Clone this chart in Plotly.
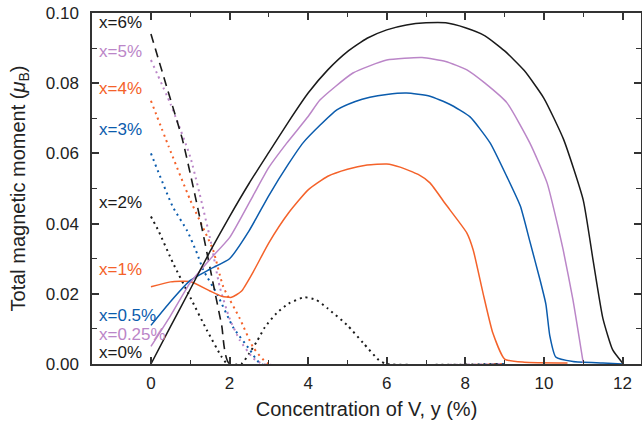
import plotly.graph_objects as go

# ---- data: x = Mn concentration series, y = V concentration (%) ----
y0 = [0, 0.5, 1.0, 1.5, 2.0, 2.5, 3.0, 3.5, 4.0, 4.5, 5.0, 5.5, 6.0, 6.5, 7.0, 7.5, 8.0, 8.5, 9.0, 9.5, 10.0, 10.5, 11.0, 11.25, 11.5, 11.75, 12.0]
m0 = [0, 0.0107, 0.0213, 0.032, 0.042, 0.0515, 0.0603, 0.069, 0.0772, 0.0838, 0.089, 0.0928, 0.0952, 0.0966, 0.0972, 0.0972, 0.0958, 0.0935, 0.0892, 0.0836, 0.0757, 0.064, 0.0467, 0.0296, 0.013, 0.004, 0.0003]

y025 = [0, 0.5, 1.0, 1.5, 2.0, 2.6, 3.0, 3.46, 4.0, 4.3, 5.14, 6.0, 6.9, 7.5, 8.04, 8.5, 9.06, 9.64, 10.08, 10.36, 10.49, 10.74, 11.0]
m025 = [0.005, 0.0138, 0.0232, 0.0298, 0.036, 0.048, 0.056, 0.063, 0.0705, 0.0752, 0.0829, 0.0866, 0.0873, 0.0862, 0.0838, 0.080, 0.0744, 0.063, 0.0516, 0.039, 0.0325, 0.0182, 0.0003]

y05 = [0, 0.5, 1.0, 1.5, 2.0, 2.5, 3.0, 3.5, 3.87, 4.3, 4.73, 5.2, 5.57, 6.0, 6.5, 7.1, 7.6, 8.12, 8.63, 9.06, 9.4, 9.64, 9.9, 10.05, 10.15, 10.3, 10.74, 11.5, 12.0]
m05 = [0.011, 0.0178, 0.0238, 0.027, 0.030, 0.038, 0.048, 0.057, 0.063, 0.068, 0.0724, 0.0748, 0.076, 0.0768, 0.0772, 0.0763, 0.074, 0.0704, 0.063, 0.0533, 0.045, 0.035, 0.024, 0.017, 0.008, 0.002, 0.0007, 0.0003, 0.0]

y1 = [0, 0.5, 1.0, 1.5, 1.8, 2.05, 2.3, 2.6, 3.0, 3.5, 4.0, 4.5, 5.0, 5.5, 6.0, 6.34, 6.8, 7.1, 7.5, 8.04, 8.2, 8.45, 8.7, 9.0, 9.5, 10.6]
m1 = [0.022, 0.0234, 0.0235, 0.0208, 0.0193, 0.019, 0.0207, 0.0262, 0.0345, 0.043, 0.0496, 0.0535, 0.0555, 0.0567, 0.057, 0.0561, 0.054, 0.0516, 0.0455, 0.0373, 0.0325, 0.0202, 0.0088, 0.0014, 0.0005, 0.0003]

y2 = [0, 0.19, 0.56, 1.0, 1.42, 1.8, 1.95, 2.3, 2.5, 2.7, 2.9, 3.2, 3.5, 3.9, 4.2, 4.5, 5.0, 5.4, 5.8, 6.0, 9.0]
m2 = [0.042, 0.038, 0.0288, 0.019, 0.0097, 0.002, 0.0, 0.0, 0.003, 0.0065, 0.0105, 0.0145, 0.0172, 0.019, 0.0183, 0.0158, 0.011, 0.006, 0.0011, 0.0, 0.0]

y3 = [0, 0.56, 0.92, 1.17, 1.33, 1.68, 2.09, 2.52, 2.8, 9.0]
m3 = [0.060, 0.0447, 0.038, 0.0316, 0.0268, 0.020, 0.0105, 0.004, 0.0, 0.0]

y4 = [0, 0.45, 1.0, 1.58, 1.84, 2.26, 2.6, 3.0, 9.0]
m4 = [0.075, 0.062, 0.0467, 0.0325, 0.022, 0.013, 0.0048, 0.0, 0.0]

y5 = [0, 0.5, 1.0, 1.5, 1.75, 2.0, 2.26, 2.6, 2.85, 9.0]
m5 = [0.0866, 0.074, 0.059, 0.036, 0.022, 0.013, 0.0068, 0.0017, 0.0, 0.0]

y6 = [0, 0.4, 0.8, 1.2, 1.6, 1.8, 2.0, 9.0]
m6 = [0.094, 0.079, 0.064, 0.044, 0.022, 0.011, 0.0, 0.0]

labels = ["x=6%", "x=5%", "x=4%", "x=3%", "x=2%", "x=1%", "x=0.5%", "x=0.25%", "x=0%"]
label_pos = [0.0974, 0.0889, 0.0786, 0.0667, 0.0459, 0.0268, 0.0137, 0.0083, 0.0034]

BLACK = "#1a1a1a"
PURPLE = "#bb86c8"
BLUE = "#0b5cad"
ORANGE = "#f4622a"
label_colors = [BLACK, PURPLE, ORANGE, BLUE, BLACK, ORANGE, BLUE, PURPLE, BLACK]
FONT = "Liberation Sans, Arial, sans-serif"

fig = go.Figure()

def add(xs, ys, color, dash="solid", width=1.5, shape="spline"):
    fig.add_trace(go.Scatter(x=xs, y=ys, mode="lines",
                             line=dict(color=color, width=width, dash=dash, shape=shape, smoothing=0.5),
                             showlegend=False, hoverinfo="skip"))

DOT = "2px,4px"
# dotted / dashed (drawn first)
add(y2, m2, BLACK, dash=DOT, width=2)
add(y3, m3, BLUE, dash=DOT, width=2)
add(y4, m4, ORANGE, dash=DOT, width=2)
add(y5, m5, PURPLE, dash=DOT, width=2)
add(y6, m6, BLACK, dash="9px,6px", width=1.6)
# solid
add(y1, m1, ORANGE)
add(y05, m05, BLUE)
add(y025, m025, PURPLE)
add(y0, m0, BLACK)

for t, p, c in zip(labels, label_pos, label_colors):
    fig.add_annotation(x=-1.37, y=p, text=t, showarrow=False, xanchor="left", yanchor="middle",
                       font=dict(size=17, color=c, family=FONT))

axis_common = dict(showline=True, linecolor="#333333", linewidth=1.5, mirror="ticks",
                   ticks="inside", tickcolor="#333333", tickwidth=1.5, ticklen=7,
                   showgrid=False, zeroline=False, automargin=False,
                   tickfont=dict(size=17, color="#222222", family=FONT))

fig.update_xaxes(range=[-1.5, 12.47], tickvals=[0, 2, 4, 6, 8, 10, 12],
                 minor=dict(tickvals=[1, 3, 5, 7, 9, 11], ticks="inside", ticklen=4,
                            tickcolor="#333333", tickwidth=1.3),
                 ticklabelstandoff=3,
                 title=dict(text="Concentration of V, y (%)", standoff=10,
                            font=dict(size=20, color="#222222", family=FONT)),
                 **axis_common)
fig.update_yaxes(range=[0, 0.1], tickvals=[0, 0.02, 0.04, 0.06, 0.08, 0.10], tickformat=".2f",
                 minor=dict(tickvals=[0.01, 0.03, 0.05, 0.07, 0.09], ticks="inside", ticklen=5,
                            tickcolor="#333333", tickwidth=1.3),
                 ticklabelstandoff=8,
                 title=dict(text="Total magnetic moment (<i>μ</i><sub>B</sub>)", standoff=15,
                            font=dict(size=20, color="#222222", family=FONT)),
                 **axis_common)

fig.update_layout(width=642, height=430, margin=dict(l=92, r=1, t=13, b=66),
                  plot_bgcolor="white", paper_bgcolor="white",
                  font=dict(family=FONT))

# remove the default 8px page margin so the 642x430 figure fills the window exactly
fig.write_html("out.html", config={"displayModeBar": False},
               post_script="document.body.style.margin='0';")
